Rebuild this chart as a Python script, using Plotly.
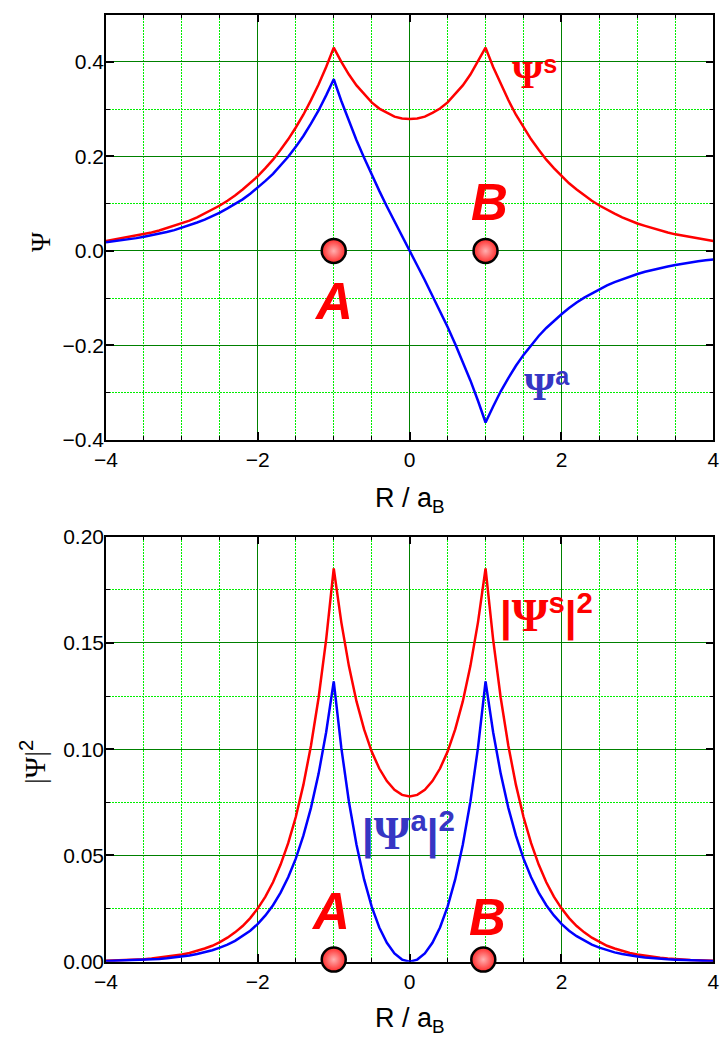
import plotly.graph_objects as go

# Sampling grid along the internuclear axis, R / a_B
r_grid = [-4.0, -3.9, -3.8, -3.7, -3.6, -3.5, -3.4, -3.3, -3.2, -3.1,
          -3.0, -2.9, -2.8, -2.7, -2.6, -2.5, -2.4, -2.3, -2.2, -2.1,
          -2.0, -1.9, -1.8, -1.7, -1.6, -1.5, -1.4, -1.3, -1.2, -1.1,
          -1.0, -0.9, -0.8, -0.7, -0.6, -0.5, -0.4, -0.3, -0.2, -0.1,
          0.0, 0.1, 0.2, 0.3, 0.4, 0.5, 0.6, 0.7, 0.8, 0.9,
          1.0, 1.1, 1.2, 1.3, 1.4, 1.5, 1.6, 1.7, 1.8, 1.9,
          2.0, 2.1, 2.2, 2.3, 2.4, 2.5, 2.6, 2.7, 2.8, 2.9,
          3.0, 3.1, 3.2, 3.3, 3.4, 3.5, 3.6, 3.7, 3.8, 3.9, 4.0]

# Symmetric combination Psi^s
psi_s = [0.021, 0.024, 0.026, 0.029, 0.032, 0.035, 0.039, 0.043, 0.048, 0.053,
         0.058, 0.064, 0.071, 0.079, 0.087, 0.096, 0.106, 0.117, 0.130, 0.143,
         0.158, 0.175, 0.193, 0.214, 0.236, 0.261, 0.288, 0.319, 0.352, 0.389,
         0.430, 0.400, 0.373, 0.350, 0.331, 0.314, 0.301, 0.292, 0.284, 0.280,
         0.279, 0.280, 0.284, 0.292, 0.301, 0.314, 0.331, 0.350, 0.373, 0.400,
         0.430, 0.389, 0.352, 0.319, 0.288, 0.261, 0.236, 0.214, 0.193, 0.175,
         0.158, 0.143, 0.130, 0.117, 0.106, 0.096, 0.087, 0.079, 0.071, 0.064,
         0.058, 0.053, 0.048, 0.043, 0.039, 0.035, 0.032, 0.029, 0.026, 0.024, 0.021]

# Antisymmetric combination Psi^a
psi_a = [0.018, 0.020, 0.022, 0.024, 0.027, 0.030, 0.033, 0.036, 0.040, 0.044,
         0.049, 0.054, 0.060, 0.066, 0.073, 0.081, 0.090, 0.099, 0.109, 0.121,
         0.134, 0.148, 0.163, 0.180, 0.199, 0.220, 0.243, 0.269, 0.297, 0.329,
         0.363, 0.317, 0.274, 0.234, 0.197, 0.161, 0.127, 0.094, 0.062, 0.031,
         0.000, -0.031, -0.062, -0.094, -0.127, -0.161, -0.197, -0.234, -0.274, -0.317,
         -0.363, -0.329, -0.297, -0.269, -0.243, -0.220, -0.199, -0.180, -0.163, -0.148,
         -0.134, -0.121, -0.109, -0.099, -0.090, -0.081, -0.073, -0.066, -0.060, -0.054,
         -0.049, -0.044, -0.040, -0.036, -0.033, -0.030, -0.027, -0.024, -0.022, -0.020, -0.018]

# Probability densities |Psi^s|^2 and |Psi^a|^2
dens_s = [0.0005, 0.0006, 0.0007, 0.0008, 0.0010, 0.0012, 0.0015, 0.0019, 0.0023, 0.0028,
          0.0034, 0.0041, 0.0051, 0.0062, 0.0075, 0.0092, 0.0113, 0.0138, 0.0168, 0.0205,
          0.0251, 0.0306, 0.0374, 0.0457, 0.0558, 0.0681, 0.0832, 0.1016, 0.1241, 0.1516,
          0.1851, 0.1597, 0.1391, 0.1225, 0.1093, 0.0989, 0.0909, 0.0850, 0.0809, 0.0785,
          0.0778, 0.0785, 0.0809, 0.0850, 0.0909, 0.0989, 0.1093, 0.1225, 0.1391, 0.1597,
          0.1851, 0.1516, 0.1241, 0.1016, 0.0832, 0.0681, 0.0558, 0.0457, 0.0374, 0.0306,
          0.0251, 0.0205, 0.0168, 0.0138, 0.0113, 0.0092, 0.0075, 0.0062, 0.0051, 0.0041,
          0.0034, 0.0028, 0.0023, 0.0019, 0.0015, 0.0012, 0.0010, 0.0008, 0.0007, 0.0006, 0.0005]

dens_a = [0.0003, 0.0004, 0.0005, 0.0006, 0.0007, 0.0009, 0.0011, 0.0013, 0.0016, 0.0020,
          0.0024, 0.0029, 0.0036, 0.0044, 0.0054, 0.0066, 0.0080, 0.0098, 0.0120, 0.0146,
          0.0178, 0.0218, 0.0266, 0.0325, 0.0397, 0.0485, 0.0593, 0.0724, 0.0884, 0.1080,
          0.1319, 0.1006, 0.0753, 0.0550, 0.0387, 0.0259, 0.0161, 0.0089, 0.0039, 0.0010,
          0.0000, 0.0010, 0.0039, 0.0089, 0.0161, 0.0259, 0.0387, 0.0550, 0.0753, 0.1006,
          0.1319, 0.1080, 0.0884, 0.0724, 0.0593, 0.0485, 0.0397, 0.0325, 0.0266, 0.0218,
          0.0178, 0.0146, 0.0120, 0.0098, 0.0080, 0.0066, 0.0054, 0.0044, 0.0036, 0.0029,
          0.0024, 0.0020, 0.0016, 0.0013, 0.0011, 0.0009, 0.0007, 0.0006, 0.0005, 0.0004, 0.0003]

# Nuclei A and B
nuclei_top_x = [-1.0, 1.0]
nuclei_top_y = [0.0, 0.0]
nuclei_bot_x = [-1.0, 0.97]
nuclei_bot_y = [0.001, 0.001]

W, H = 721, 1039
RED = "#ff0000"
BLUE = "#0000ff"
LABEL_BLUE = "#3636c4"
SANS = "Arial, Liberation Sans, sans-serif"
SERIF = "Liberation Serif, Times New Roman, serif"


def px(x):
    return x / W


def py(y):
    return 1 - y / H


fig = go.Figure()

line_kw = dict(mode="lines", hoverinfo="skip", showlegend=False)
fig.add_trace(go.Scatter(x=r_grid, y=psi_s, line=dict(color=RED, width=2.5),
                         xaxis="x", yaxis="y", **line_kw))
fig.add_trace(go.Scatter(x=r_grid, y=psi_a, line=dict(color=BLUE, width=2.5),
                         xaxis="x", yaxis="y", **line_kw))
fig.add_trace(go.Scatter(x=r_grid, y=dens_s, line=dict(color=RED, width=2.5),
                         xaxis="x2", yaxis="y2", **line_kw))
fig.add_trace(go.Scatter(x=r_grid, y=dens_a, line=dict(color=BLUE, width=2.5),
                         xaxis="x2", yaxis="y2", **line_kw))

ball = dict(size=24, color="#ff2a2a",
            gradient=dict(type="radial", color="#ffb0b0"),
            line=dict(color="black", width=2.5))
fig.add_trace(go.Scatter(x=nuclei_top_x, y=nuclei_top_y, mode="markers", marker=ball,
                         cliponaxis=False, showlegend=False, hoverinfo="skip",
                         xaxis="x", yaxis="y"))
fig.add_trace(go.Scatter(x=nuclei_bot_x, y=nuclei_bot_y, mode="markers", marker=ball,
                         cliponaxis=False, showlegend=False, hoverinfo="skip",
                         xaxis="x2", yaxis="y2"))


def axis(**kw):
    base = dict(
        showline=True, linecolor="black", linewidth=1.5, mirror="ticks",
        ticks="inside", ticklen=8, tickwidth=1.5, tickcolor="black",
        showgrid=True, gridcolor="#008000", gridwidth=1, zeroline=False,
        layer="below traces", automargin=False,
        tickfont=dict(family=SANS, size=21, color="black"),
        minor=dict(ticks="inside", ticklen=4, tickwidth=1, tickcolor="black",
                   showgrid=True, gridcolor="#00ee00", gridwidth=1,
                   griddash="2px,1px"),
    )
    minor = kw.pop("minor_dtick")
    base["minor"]["dtick"] = minor
    base.update(kw)
    return base


x_dom = [px(106), px(713.3)]
fig.update_layout(
    width=W, height=H, margin=dict(l=0, r=0, t=0, b=0),
    paper_bgcolor="white", plot_bgcolor="white", showlegend=False,
    xaxis=axis(domain=x_dom, range=[-4, 4], tick0=0, dtick=2, minor_dtick=0.5,
               anchor="y"),
    yaxis=axis(domain=[py(440), py(14.5)], range=[-0.4, 0.5], tick0=0, dtick=0.2,
               tickformat=".1f", minor_dtick=0.1, anchor="x", ticklabelstandoff=-4),
    xaxis2=axis(domain=x_dom, range=[-4, 4], tick0=0, dtick=2, minor_dtick=0.5,
                anchor="y2"),
    yaxis2=axis(domain=[py(961.7), py(536.7)], range=[0, 0.2], tick0=0, dtick=0.05,
                tickformat=".2f", minor_dtick=0.025, anchor="x2", ticklabelstandoff=-4),
)

annotations = []


def label(text, cx, cy, size, color="black", family=SANS, weight="normal",
          style="normal", angle=0):
    annotations.append(dict(
        text=text, x=px(cx), y=py(cy), xref="paper", yref="paper",
        xanchor="center", yanchor="middle", showarrow=False, textangle=angle,
        font=dict(family=family, size=size, color=color, weight=weight, style=style),
    ))


# Axis titles
label("R / a<sub>B</sub>", 410, 500, 27)
label("R / a<sub>B</sub>", 410, 1020, 27)
label('<span style="font-family:Liberation Serif">Ψ</span>', 41, 242, 27, family=SERIF,
      angle=-90)
label('|Ψ|<sup><span style="font-family:Arial">2</span></sup>', 33, 762, 29,
      family=SERIF, angle=-90)

# Nucleus letters
for cx, cy in [(333, 301.5), (489.5, 202.5), (330, 911.5), (487.5, 917.5)]:
    label("A" if cx < 400 else "B", cx, cy, 51, color=RED, weight="bold", style="italic")

# Curve labels
psi = '<span style="font-family:Liberation Serif;font-size:{}px">Ψ</span>'
label(psi.format(40) + "<sup>s</sup>", 534, 73.5, 36, color=RED, weight="bold")
label(psi.format(40) + "<sup>a</sup>", 547, 386, 36, color=LABEL_BLUE, weight="bold")
label("|" + psi.format(47) + "<sup>s</sup>|<sup>2</sup>", 546, 613, 42, color=RED,
      weight="bold")
label("|" + psi.format(47) + "<sup>a</sup>|<sup>2</sup>", 408, 831, 42, color=LABEL_BLUE,
      weight="bold")

fig.update_layout(annotations=annotations)

fig.write_html("out.html")
